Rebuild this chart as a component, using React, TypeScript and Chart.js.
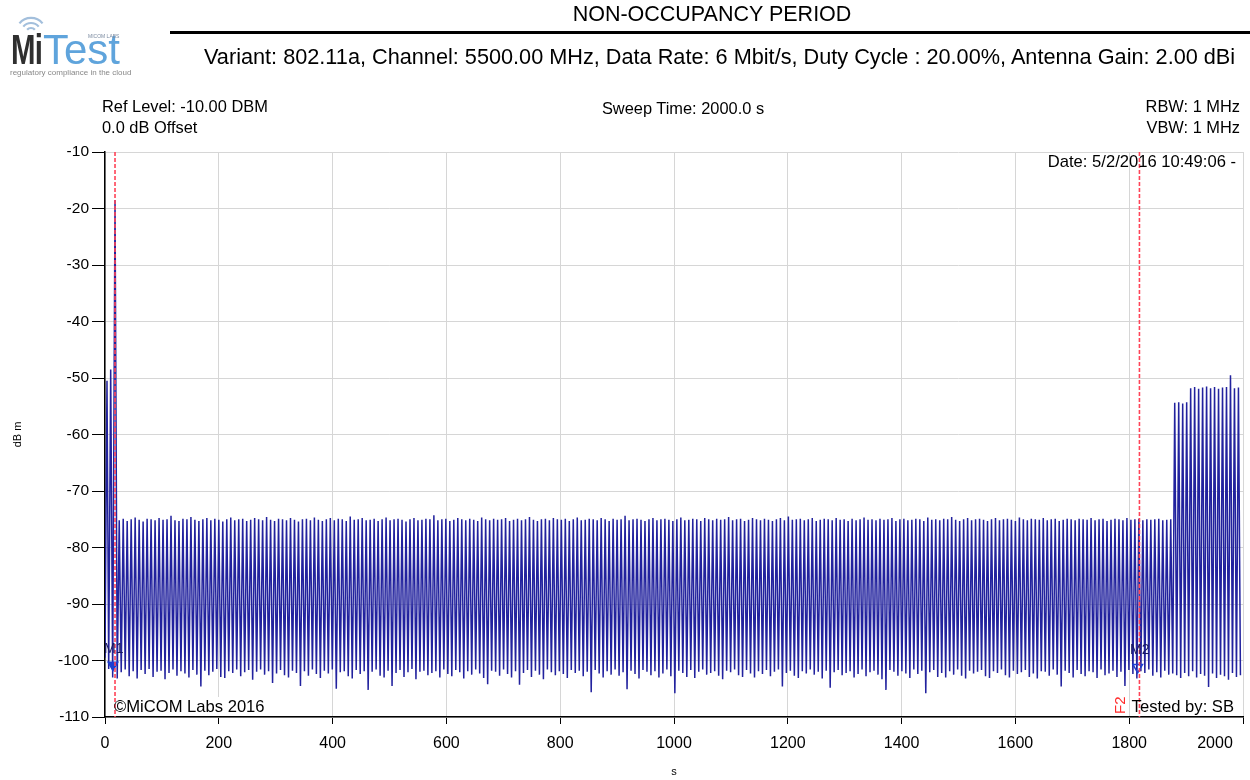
import React, { useEffect, useRef } from 'react';
import { Chart, registerables } from 'chart.js';

Chart.register(...registerables);

const FONT = "'Liberation Sans', Arial, sans-serif";

// Axis settings (values)
const xMin = 0;
const xMax = 2000;
const xStep = 200;
const yMin = -110;
const yMax = -10;
const yStep = 10;

// Lead-in of the sweep (time in s, level in dBm)
const leadTimes = [0, 3.5, 6.5, 10, 13.5, 17.6, 21.5];
const leadLevels = [-99.5, -50.5, -101.5, -48.5, -103.0, -18.5, -103.2];

// Regular part of the sweep: peak / trough pairs
const sweepStart = 25;
const halfPeriod = 3.5;

const lowPeaks = [
  -75.2, -74.9, -75.3, -75.0, -74.7, -75.1, -75.4, -74.9, -75.0, -75.2,
  -74.8, -75.1, -75.0, -74.4, -75.2, -75.3, -74.9, -75.0, -74.6, -75.1,
  -75.3, -75.0, -74.8, -75.2, -74.9, -75.1, -75.4, -75.0, -74.7, -75.2,
  -75.0, -74.9, -75.3, -75.1, -74.8, -75.0, -75.2, -74.6, -75.1, -75.3,
  -74.9, -75.0, -75.2, -74.8, -75.1, -75.4, -75.0, -74.9, -75.2, -74.7,
  -75.1, -75.3, -75.0, -74.8, -75.2, -74.9, -75.0, -75.3, -74.5, -75.1,
  -75.0, -74.8, -75.2, -75.1, -74.9, -75.3, -75.0, -74.7, -75.2, -75.0,
  -74.9, -75.1, -75.4, -75.0, -74.8, -75.2, -75.1, -74.9, -75.0, -74.3,
  -75.2, -75.0, -74.9, -75.3, -75.1, -74.8, -75.0, -75.2, -74.9, -75.1,
  -75.3, -74.7, -75.0, -75.2, -74.9, -75.1, -75.0, -74.8, -75.3, -75.1,
  -74.9, -75.2, -75.0, -74.6, -75.1, -75.3, -75.0, -74.9, -75.2, -74.8,
  -75.0, -75.1, -74.9, -75.3, -75.0, -74.7, -75.2, -75.1, -74.9, -75.0,
  -75.2, -74.8, -75.0, -75.3, -74.9, -75.1, -75.0, -74.4, -75.2, -75.0,
  -74.9, -75.1, -75.3, -75.0, -74.8, -75.2, -75.0, -74.9, -75.1, -75.3,
  -75.0, -74.7, -75.2, -75.1, -74.9, -75.0, -75.3, -74.8, -75.0, -75.2,
  -74.9, -75.1, -75.0, -74.6, -75.2, -75.0, -74.9, -75.3, -75.1, -74.8,
  -75.0, -75.2, -74.9, -75.1, -75.3, -75.0, -74.8, -75.2, -74.5, -75.1,
  -75.0, -74.9, -75.2, -75.0, -74.8, -75.3, -75.1, -74.9, -75.0, -75.2,
  -74.8, -75.1, -75.0, -75.3, -74.9, -75.2, -75.0, -74.7, -75.1, -75.0,
  -75.2, -74.9, -75.1, -75.0, -74.8, -75.3, -75.0, -74.9, -75.2, -75.1,
  -74.9, -75.0, -75.3, -74.7, -75.1, -75.0, -75.2, -74.9, -75.0, -74.6,
  -75.1, -75.3, -75.0, -74.8, -75.2, -75.0, -74.9, -75.1, -75.3, -75.0,
  -74.8, -75.2, -75.0, -74.9, -75.1, -75.3, -74.7, -75.0, -75.2, -74.9,
  -75.0, -75.1, -74.8, -75.2, -75.0, -74.9, -75.3, -75.1, -74.9, -75.0,
  -75.2, -74.9, -75.0, -75.1, -74.8, -75.2, -75.0, -74.9, -75.3, -75.1,
  -74.9, -75.0, -75.2, -74.8, -75.1, -75.0, -74.9, -75.2, -75.0, -75.1,
  -75.0, -74.9, -75.2, -75.1, -75.0,
];

const lowTroughs = [
  -102.1, -101.6, -102.8, -101.9, -103.2, -101.7, -102.4, -101.5, -102.9, -102.0,
  -101.8, -103.3, -102.2, -101.6, -102.7, -101.9, -102.3, -103.0, -101.7, -102.5,
  -104.6, -101.8, -102.6, -102.0, -101.5, -102.9, -103.1, -101.9, -102.2, -101.6,
  -102.8, -102.1, -101.7, -103.4, -102.0, -101.6, -102.5, -101.9, -104.0, -102.3,
  -101.7, -102.6, -103.0, -101.8, -102.2, -104.5, -101.9, -102.7, -101.6, -102.4,
  -103.1, -101.8, -102.3, -101.6, -105.0, -102.1, -101.9, -102.8, -103.2, -101.7,
  -102.4, -101.9, -105.2, -102.0, -101.6, -102.7, -103.0, -101.8, -104.5, -102.2,
  -101.7, -102.9, -102.1, -101.5, -103.3, -102.0, -101.8, -102.6, -102.2, -101.9,
  -103.0, -101.6, -102.4, -102.8, -101.7, -102.1, -103.2, -101.9, -102.5, -101.6,
  -102.3, -103.1, -104.2, -101.8, -102.0, -102.7, -101.6, -102.4, -103.0, -101.9,
  -104.3, -102.2, -101.7, -102.9, -101.8, -102.5, -103.3, -101.6, -102.1, -102.6,
  -101.9, -102.4, -103.1, -101.7, -102.2, -101.8, -102.8, -102.0, -105.6, -101.7,
  -102.3, -103.0, -101.9, -102.5, -101.6, -102.7, -102.1, -105.1, -101.8, -102.4,
  -103.2, -101.7, -102.0, -102.6, -101.9, -103.0, -102.3, -101.6, -102.8, -105.8,
  -101.8, -102.2, -102.9, -101.7, -103.1, -102.0, -101.6, -102.5, -102.2, -101.9,
  -102.7, -103.3, -101.8, -102.1, -101.6, -102.6, -102.9, -101.7, -102.3, -103.0,
  -101.9, -102.4, -101.7, -102.8, -102.0, -101.6, -104.6, -102.2, -101.8, -102.7,
  -103.1, -101.9, -102.3, -101.6, -102.5, -102.0, -103.2, -101.8, -104.8, -102.1,
  -101.7, -102.6, -102.2, -101.9, -103.0, -102.4, -101.6, -102.8, -102.1, -101.8,
  -102.5, -103.3, -105.2, -101.7, -102.0, -102.7, -101.9, -102.3, -103.1, -101.6,
  -102.4, -101.8, -105.8, -102.1, -101.7, -102.9, -102.2, -103.0, -101.9, -102.5,
  -101.6, -102.7, -103.2, -101.8, -102.3, -102.0, -101.7, -102.8, -103.1, -101.9,
  -102.2, -101.6, -102.6, -103.0, -101.8, -102.4, -102.1, -101.7, -102.9, -102.3,
  -103.2, -101.9, -102.0, -102.7, -101.6, -102.5, -104.6, -101.8, -102.2, -103.0,
  -101.7, -102.4, -102.8, -101.9, -102.1, -103.1, -101.6, -102.6, -102.3, -101.8,
  -102.9, -102.0, -104.5, -101.7, -102.4, -103.2, -101.9, -102.2, -101.6, -102.7,
  -102.1, -103.0, -101.8, -102.5, -102.3,
];

const highPeaks = [
  -54.4, -54.3, -54.5, -54.3, -51.8, -51.6, -51.9, -51.7, -51.5,
  -51.8, -51.6, -51.9, -51.7, -51.6, -49.5, -51.8, -51.7,
];
const highTroughs = [
  -102.6, -103.1, -102.2, -102.8, -101.9, -103.0, -102.4, -102.7, -104.7,
  -102.3, -103.1, -102.5, -102.8, -103.4, -102.2, -102.9, -102.6,
];

// Markers
const markerNames = ['M1', 'M2'];
const markerTimes = [14, 1815];
const markerLevels = [-100.8, -101.2];
const markerLineTimes = [17.6, 1818];

function buildTrace() {
  const pts: { x: number; y: number }[] = leadTimes.map((t, i) => ({ x: t, y: leadLevels[i] }));
  const peaks = lowPeaks.concat(highPeaks);
  const troughs = lowTroughs.concat(highTroughs);
  peaks.forEach((p, i) => {
    const t = sweepStart + i * 2 * halfPeriod;
    pts.push({ x: t, y: p });
    pts.push({ x: t + halfPeriod, y: troughs[i] });
  });
  return pts;
}

const markerLinePlugin = {
  id: 'markerLines',
  afterDatasetsDraw(chart: any) {
    const { ctx, chartArea, scales } = chart;
    ctx.save();
    ctx.strokeStyle = '#ff4458';
    ctx.lineWidth = 1.6;
    ctx.setLineDash([4, 2]);
    markerLineTimes.forEach((t) => {
      const x = scales.x.getPixelForValue(t);
      ctx.beginPath();
      ctx.moveTo(x, chartArea.top);
      ctx.lineTo(x, chartArea.bottom);
      ctx.stroke();
    });
    ctx.restore();
  },
};

const lastTickPlugin = {
  id: 'lastTick',
  afterDraw(chart: any) {
    const { ctx, chartArea, scales } = chart;
    const xs = scales.x;
    ctx.save();
    ctx.font = `16px ${FONT}`;
    ctx.fillStyle = '#000';
    ctx.textAlign = 'center';
    ctx.textBaseline = 'top';
    ctx.fillText(String(xMax), xs.getPixelForValue(xMax) - 28, chartArea.bottom + 7 + 12);
    ctx.restore();
  },
};

function ChartCanvas() {
  const ref = useRef<HTMLCanvasElement>(null);
  useEffect(() => {
    if (!ref.current) return;
    const trace = buildTrace();
    const markers = markerTimes.map((t, i) => ({ x: t, y: markerLevels[i], name: markerNames[i] }));
    const chart = new Chart(ref.current, {
      type: 'line',
      data: {
        datasets: [
          {
            type: 'scatter',
            label: 'Markers',
            data: markers,
            pointStyle: 'triangle',
            rotation: 180,
            pointRadius: 5.5,
            pointBackgroundColor: ['#1c3fd0', 'rgba(255,255,255,0)'],
            pointBorderColor: ['#1c3fd0', '#1c3fd0'],
            pointBorderWidth: 1.5,
            showLine: false,
          } as any,
          {
            label: 'Trace',
            data: trace,
            borderColor: '#22229e',
            borderWidth: 1.5,
            pointRadius: 0,
            tension: 0,
            fill: false,
          },
        ],
      },
      options: {
        responsive: false,
        animation: false,
        devicePixelRatio: 1,
        layout: { padding: { left: 0, top: 152, right: 7, bottom: 0 } },
        plugins: {
          legend: { display: false },
          tooltip: { enabled: false },
          title: { display: false },
        },
        scales: {
          x: {
            type: 'linear',
            min: xMin,
            max: xMax,
            ticks: {
              stepSize: xStep,
              autoSkip: false,
              maxRotation: 0,
              padding: 10,
              color: '#000',
              font: { size: 16, family: FONT },
              callback: (v: any) => (v === xMax ? '' : String(v)),
            },
            grid: { color: '#d6d6d6', tickColor: '#000', tickLength: 7, lineWidth: 1 },
            border: { color: '#000', width: 1.5 },
            title: {
              display: true,
              text: 's',
              color: '#000',
              font: { size: 11, family: FONT },
              padding: { top: 1, bottom: 1 },
            },
            afterFit: (s: any) => {
              s.height = 63;
              s.paddingLeft = 0;
              s.paddingRight = 0;
            },
          },
          y: {
            type: 'linear',
            min: yMin,
            max: yMax,
            ticks: {
              stepSize: yStep,
              padding: 3,
              color: '#000',
              font: { size: 15.5, family: FONT },
            },
            grid: { color: '#d6d6d6', tickColor: '#000', tickLength: 13, lineWidth: 1 },
            border: { color: '#000', width: 1.5 },
            title: {
              display: true,
              text: 'dB m',
              color: '#000',
              font: { size: 11, family: FONT },
              padding: { top: 11, bottom: 0 },
            },
            afterFit: (s: any) => {
              s.width = 105;
              s.paddingTop = 0;
              s.paddingBottom = 0;
            },
          },
        },
      },
      plugins: [markerLinePlugin, lastTickPlugin],
    });
    return () => chart.destroy();
  }, []);
  return (
    <canvas
      ref={ref}
      width={1250}
      height={780}
      style={{ position: 'absolute', left: 0, top: 0, width: 1250, height: 780 }}
    />
  );
}

const txt = (extra: React.CSSProperties): React.CSSProperties => ({
  position: 'absolute',
  whiteSpace: 'nowrap',
  fontFamily: FONT,
  lineHeight: 1,
  color: '#000',
  ...extra,
});

function Logo() {
  return (
    <div style={{ position: 'absolute', left: 0, top: 0, width: 150, height: 85 }}>
      <svg width={150} height={85} style={{ position: 'absolute', left: 0, top: 0 }}>
        {[5, 10, 15].map((r) => (
          <path
            key={r}
            d={`M ${31 - r * 0.77} ${33 - r * 0.64} A ${r} ${r} 0 0 1 ${31 + r * 0.77} ${33 - r * 0.64}`}
            stroke="#a3bfdc"
            strokeWidth={2.2}
            fill="none"
          />
        ))}
      </svg>
      <div style={txt({ left: 11, top: 29, fontSize: 42, fontWeight: 'bold', color: '#2f2f2f', transform: 'scaleX(0.7)', transformOrigin: 'left top', letterSpacing: -1 })}>
        Mi
      </div>
      <div style={txt({ left: 43, top: 29, fontSize: 42, color: '#5fa4dc' })}>Test</div>
      <div style={txt({ left: 88, top: 34, fontSize: 5, color: '#7a8aa0' })}>MICOM LABS</div>
      <div style={txt({ left: 10, top: 69, fontSize: 8, color: '#888' })}>
        regulatory compliance in the cloud
      </div>
    </div>
  );
}

export default function App() {
  return (
    <div style={{ position: 'absolute', left: 0, top: 0, width: 1250, height: 780, background: '#fff', overflow: 'hidden' }}>
      <ChartCanvas />
      <Logo />
      <div style={txt({ left: 712, top: 4, fontSize: 21.5, transform: 'translateX(-50%)' })}>NON-OCCUPANCY PERIOD</div>
      <div style={{ position: 'absolute', left: 170, top: 31, width: 1080, height: 3, background: '#000' }} />
      <div style={txt({ left: 204, top: 46, fontSize: 21.7 })}>
        Variant: 802.11a, Channel: 5500.00 MHz, Data Rate: 6 Mbit/s, Duty Cycle : 20.00%, Antenna Gain: 2.00 dBi
      </div>
      <div style={txt({ left: 102, top: 98, fontSize: 16.4 })}>Ref Level: -10.00 DBM</div>
      <div style={txt({ left: 102, top: 119, fontSize: 16.4 })}>0.0 dB Offset</div>
      <div style={txt({ left: 683, top: 100, fontSize: 16.4, transform: 'translateX(-50%)' })}>Sweep Time: 2000.0 s</div>
      <div style={txt({ right: 10, top: 98, fontSize: 16.4, textAlign: 'right' })}>RBW: 1 MHz</div>
      <div style={txt({ right: 10, top: 119, fontSize: 16.4, textAlign: 'right' })}>VBW: 1 MHz</div>
      <div style={txt({ right: 14, top: 154, fontSize: 16.6, textAlign: 'right' })}>Date: 5/2/2016 10:49:06 -</div>
      <div style={txt({ left: 104, top: 641, fontSize: 14, color: '#1a1a60' })}>M1</div>
      <div style={txt({ left: 1130, top: 642, fontSize: 14, color: '#1a1a60' })}>M2</div>
      <div style={txt({ left: 123, top: 714, fontSize: 15, color: '#ff2a2a', transform: 'rotate(-90deg)', transformOrigin: 'left top' })}>F1</div>
      <div style={txt({ left: 1112, top: 714, fontSize: 15, color: '#ff2a2a', transform: 'rotate(-90deg)', transformOrigin: 'left top' })}>F2</div>
      <div style={txt({ left: 114, top: 699, fontSize: 16.6 })}>
        ©<span style={{ background: '#fff' }}>MiCOM Labs 2016</span>
      </div>
      <div style={txt({ right: 16, top: 699, fontSize: 16.6, textAlign: 'right' })}>Tested by: SB</div>
    </div>
  );
}
